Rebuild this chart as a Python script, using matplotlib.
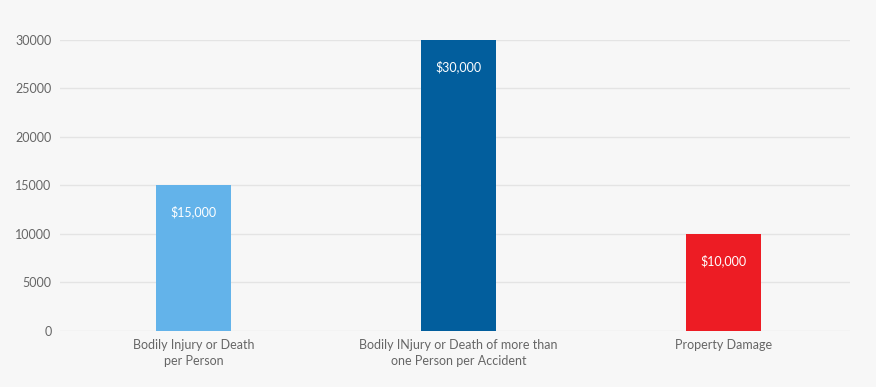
import matplotlib.pyplot as plt
import numpy as np

categories = ["Bodily Injury or Death\nper Person",
              "Bodily INjury or Death of more than\none Person per Accident",
              "Property Damage"]
values = [15000, 30000, 10000]
bar_labels = ["$15,000", "$30,000", "$10,000"]
colors = ["#63b3ea", "#025e9d", "#ed1c24"]

plt.rcParams['font.family'] = ['Lato', 'DejaVu Sans']

fig = plt.figure(figsize=(8.76, 3.87), dpi=100, facecolor="#f7f7f7")
ax = fig.add_axes([0.0685, 0.1447, 0.9015, 0.752])
ax.set_facecolor("#f7f7f7")

x = np.arange(len(categories))
bars = ax.bar(x, values, width=0.283, color=colors, zorder=2)

# etiquetas dentro de las barras
for b, lab in zip(bars, bar_labels):
    ax.annotate(lab, (b.get_x() + b.get_width() / 2, b.get_height()),
                xytext=(0, -19), textcoords="offset points",
                ha="center", va="center", color="white", fontsize=9)

ax.set_xlim(-0.504, 2.477)
ax.set_ylim(0, 30000)
ax.set_yticks(range(0, 30001, 5000))
ax.set_xticks(x)
ax.set_xticklabels(categories, color="#666666", fontsize=9, linespacing=1.35)
ax.tick_params(axis="y", colors="#666666", labelsize=9, length=0, pad=6)
ax.tick_params(axis="x", length=0, pad=6)
ax.grid(axis="y", color="#e4e4e4", linewidth=1, zorder=0)
for s in ax.spines.values():
    s.set_visible(False)

fig.savefig("out.png", dpi=100, facecolor=fig.get_facecolor())
